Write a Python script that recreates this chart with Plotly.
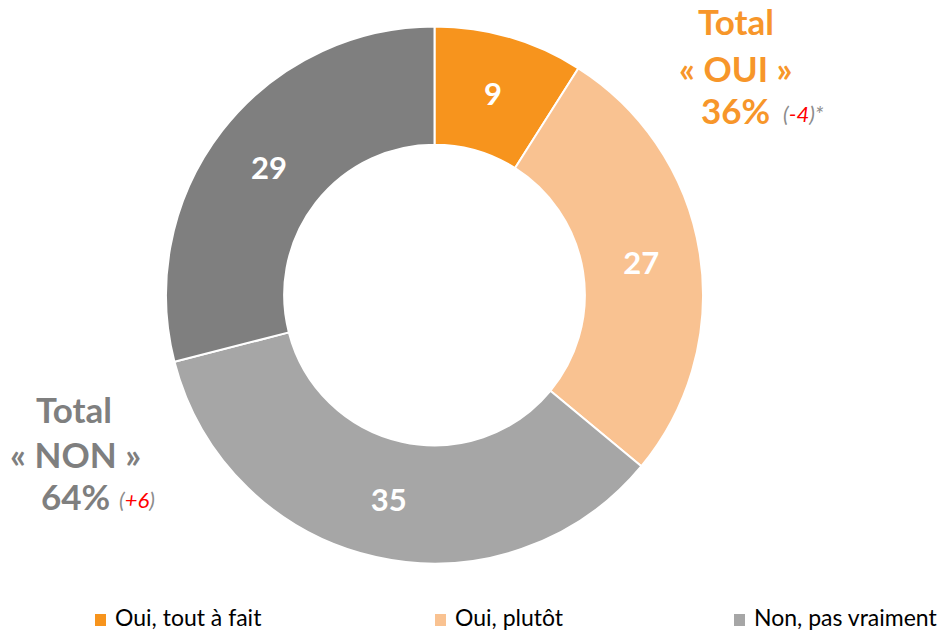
import plotly.graph_objects as go

labels = ["Oui, tout à fait", "Oui, plutôt", "Non, pas vraiment", "Non, pas du tout"]
values = [9, 27, 35, 29]
colors = ["#F7941D", "#F9C291", "#A6A6A6", "#7F7F7F"]
legend_labels = ["Oui, tout à fait", "Oui, plutôt", "Non, pas vraiment"]

total_oui = 36
delta_oui = "-4"
total_non = 64
delta_non = "+6"

W, H = 952, 632
FONT = "Lato"

def px(x):
    return x / W

def py(y):
    return 1 - y / H

cx, cy, R = 434.5, 295, 268.5

fig = go.Figure(go.Pie(
    labels=labels,
    values=values,
    sort=False,
    direction="clockwise",
    rotation=0,
    hole=0.56,
    marker=dict(colors=colors, line=dict(color="white", width=2)),
    textinfo="value",
    textposition="inside",
    insidetextorientation="horizontal",
    textfont=dict(family=FONT, size=31, color="white", weight="bold"),
    showlegend=False,
    hoverinfo="label+value",
    domain=dict(x=[px(cx - R), px(cx + R)], y=[py(cy + R), py(cy - R)]),
))

orange = "#F7962A"
gray = "#7F7F7F"
ann = []
def add(text, x, y, size, color, xanchor="center", bold=True):
    ann.append(dict(text=text, x=px(x), y=py(y), xref="paper", yref="paper",
                    xanchor=xanchor, yanchor="middle", showarrow=False,
                    font=dict(family=FONT, size=size, color=color,
                              weight="bold" if bold else "normal")))

add("Total", 736, 21, 35, orange)
add("« OUI »", 736, 68, 35, orange)
add(f"{total_oui}%", 735, 110, 35, orange)
add(f"<i>(<span style='color:#FF0000'>{delta_oui}</span>)*</i>", 781, 113, 22, "#8C8C8C", xanchor="left", bold=False)

add("Total", 74, 409, 35, gray)
add("« NON »", 75, 454, 35, gray)
add(f"{total_non}%", 75, 496, 35, gray)
add(f"<i>(<span style='color:#FF0000'>{delta_non}</span>)</i>", 117, 499, 22, "#8C8C8C", xanchor="left", bold=False)

shapes = []
sq_x = [95, 435, 734]
for i, lab in enumerate(legend_labels):
    x0 = sq_x[i]
    shapes.append(dict(type="rect", xref="paper", yref="paper",
                       x0=px(x0), x1=px(x0 + 11), y0=py(626), y1=py(614),
                       fillcolor=colors[i], line=dict(width=0)))
    ann.append(dict(text=lab, x=px(x0 + 18), y=py(617), xref="paper", yref="paper",
                    xanchor="left", yanchor="middle", showarrow=False,
                    font=dict(family=FONT, size=23, color="#000000")))

fig.update_layout(
    width=W, height=H, autosize=False,
    margin=dict(l=0, r=0, t=0, b=0),
    paper_bgcolor="white", plot_bgcolor="white",
    annotations=ann, shapes=shapes,
)

fig.write_html("out.html", config={"displayModeBar": False},
               post_script="document.body.style.margin='0';document.body.style.overflow='hidden';")
